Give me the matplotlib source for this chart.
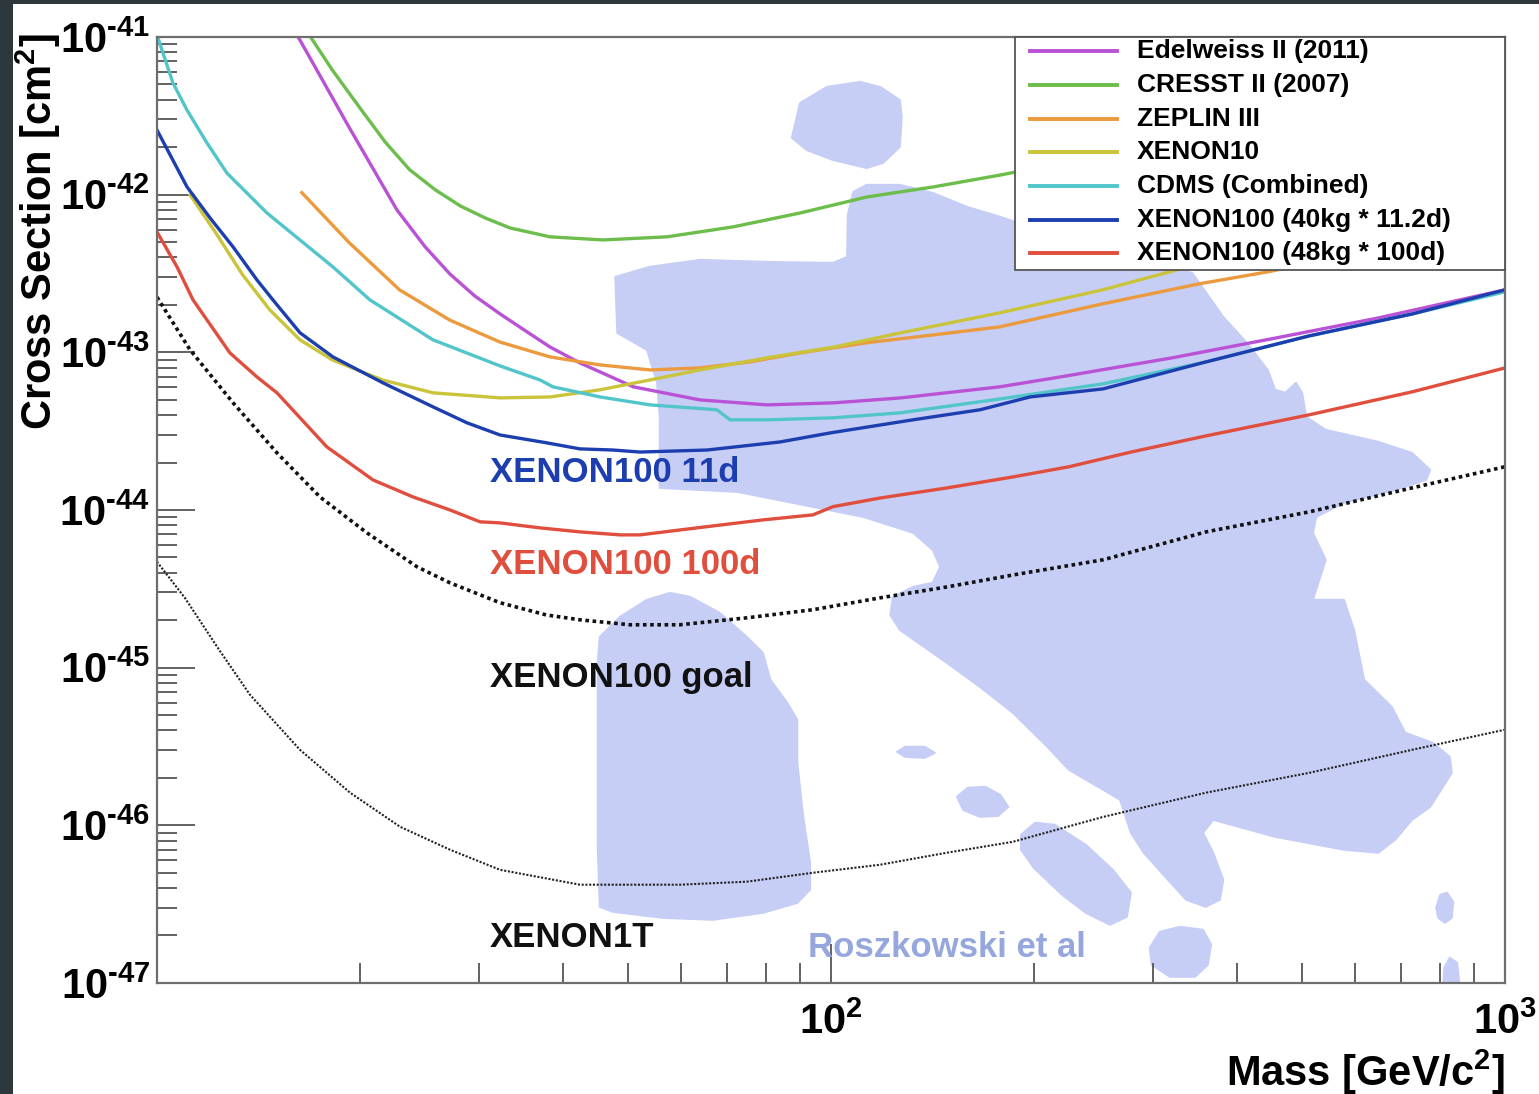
import matplotlib
matplotlib.use("Agg")
import numpy as np
import matplotlib.pyplot as plt
from matplotlib.patches import Rectangle
from matplotlib.ticker import LogLocator, NullFormatter

plt.rcParams['font.family'] = ['Liberation Sans', 'DejaVu Sans']
plt.rcParams['font.weight'] = 'bold'
plt.rcParams['mathtext.fontset'] = 'custom'
plt.rcParams['mathtext.rm'] = 'Liberation Sans:bold'
plt.rcParams['mathtext.bf'] = 'Liberation Sans:bold'
plt.rcParams['mathtext.it'] = 'Liberation Sans:bold:italic'
plt.rcParams['mathtext.default'] = 'rm'

# ---- exclusion limits: WIMP mass [GeV/c^2] vs cross section [cm^2] ----
edelweiss_m = [16.2, 19.3, 22.7, 25.0, 27.2, 29.6, 32.3, 35.2, 38.3, 42.4, 50.9, 63.9, 80.4,
               101, 127, 178, 219, 321, 456, 648, 1000]
edelweiss_s = [1.0e-41, 2.65e-42, 8.00e-43, 4.66e-43, 3.14e-43, 2.28e-43, 1.75e-43, 1.37e-43,
               1.08e-43, 8.57e-44, 6.04e-44, 4.99e-44, 4.64e-44, 4.78e-44, 5.14e-44, 6.04e-44,
               6.98e-44, 9.23e-44, 1.23e-43, 1.65e-43, 2.49e-43]

cresst_m = [16.9, 18.2, 20.0, 21.8, 23.7, 25.9, 28.2, 30.7, 33.4, 38.3, 45.9, 57.1, 71.5, 90.0,
            113, 142, 178, 191]
cresst_s = [1.0e-41, 6.18e-42, 3.55e-42, 2.16e-42, 1.44e-42, 1.07e-42, 8.47e-43, 7.11e-43,
            6.15e-43, 5.40e-43, 5.16e-43, 5.40e-43, 6.24e-43, 7.65e-43, 9.66e-43, 1.12e-42,
            1.33e-42, 1.41e-42]

zeplin_m = [16.4, 19.3, 22.9, 27.2, 32.3, 38.3, 45.4, 53.9, 63.9, 75.8, 90.0, 113, 142, 178,
            253, 352, 445, 589]
zeplin_s = [1.03e-42, 4.94e-43, 2.49e-43, 1.60e-43, 1.16e-43, 9.35e-44, 8.32e-44, 7.73e-44,
            7.96e-44, 8.69e-44, 9.91e-44, 1.15e-43, 1.29e-43, 1.45e-43, 2.03e-43, 2.72e-43,
            3.24e-43, 4.15e-43]

xenon10_m = [11.2, 12.2, 13.4, 14.7, 16.3, 18.2, 21.6, 25.7, 32.3, 38.3, 45.4, 53.9, 63.9,
             80.4, 101, 127, 178, 253, 313, 419]
xenon10_s = [9.95e-43, 5.80e-43, 3.10e-43, 1.86e-43, 1.20e-43, 8.95e-44, 6.68e-44, 5.53e-44,
             5.14e-44, 5.21e-44, 5.78e-44, 6.68e-44, 7.73e-44, 9.23e-44, 1.08e-43, 1.33e-43,
             1.78e-43, 2.49e-43, 3.18e-43, 4.46e-43]

cdms_m = [10.0, 10.56, 11.08, 11.86, 12.70, 14.56, 18.24, 20.70, 25.67, 32.28, 37.00, 38.67,
          45.43, 53.89, 67.72, 70.83, 80.35, 100.7, 126.6, 178.1, 253.3, 360.0, 511.9, 727.8, 1000]
cdms_s = [1.03e-41, 5.11e-42, 3.44e-42, 2.13e-42, 1.37e-42, 7.65e-43, 3.48e-43, 2.15e-43,
          1.20e-43, 8.20e-44, 6.68e-44, 6.04e-44, 5.21e-44, 4.64e-44, 4.32e-44, 3.73e-44,
          3.73e-44, 3.84e-44, 4.13e-44, 5.06e-44, 6.31e-44, 8.69e-44, 1.27e-43, 1.75e-43, 2.42e-43]

x100_11d_m = [10.0, 11.08, 11.99, 12.97, 14.07, 14.86, 16.30, 18.24, 21.64, 25.67, 28.84, 32.28,
              37.78, 42.42, 47.49, 52.07, 65.46, 84.03, 99.66, 132.3, 166.4, 197.4, 253.3, 360.0,
              511.9, 727.8, 1000]
x100_11d_s = [2.57e-42, 1.12e-42, 7.11e-43, 4.66e-43, 2.88e-43, 2.15e-43, 1.33e-43, 9.35e-44,
              6.40e-44, 4.51e-44, 3.57e-44, 2.99e-44, 2.67e-44, 2.44e-44, 2.40e-44, 2.33e-44,
              2.40e-44, 2.70e-44, 3.08e-44, 3.73e-44, 4.32e-44, 5.21e-44, 5.86e-44, 8.69e-44,
              1.27e-43, 1.75e-43, 2.49e-43]

x100_100d_m = [10.0, 10.71, 11.31, 12.83, 14.07, 15.07, 17.87, 20.92, 23.98, 27.21, 30.15, 32.28,
               37.00, 42.42, 48.64, 52.07, 63.27, 79.27, 94.03, 100.7, 118.2, 148.6, 186.2, 225.5,
               278.7, 360.0, 511.9, 727.8, 1000]
x100_100d_s = [5.80e-43, 3.48e-43, 2.15e-43, 9.91e-44, 6.98e-44, 5.53e-44, 2.51e-44, 1.55e-44,
               1.21e-44, 1.00e-44, 8.41e-45, 8.28e-45, 7.70e-45, 7.26e-45, 6.95e-45, 6.95e-45,
               7.70e-45, 8.65e-45, 9.31e-45, 1.05e-44, 1.19e-44, 1.38e-44, 1.62e-44, 1.88e-44,
               2.33e-44, 2.95e-44, 4.01e-44, 5.61e-44, 7.96e-44]

# projected sensitivities
goal_m = [10.0, 11.19, 12.97, 15.07, 17.45, 20.49, 24.31, 27.21, 32.28, 37.78, 42.42, 50.33,
          59.70, 75.06, 94.03, 118.2, 148.6, 186.2, 253.3, 360.0, 511.9, 727.8, 1000]
goal_s = [2.24e-43, 1.04e-43, 4.78e-44, 2.30e-44, 1.21e-44, 7.16e-45, 4.36e-45, 3.45e-45,
          2.58e-45, 2.16e-45, 2.01e-45, 1.87e-45, 1.87e-45, 2.07e-45, 2.33e-45, 2.77e-45,
          3.25e-45, 3.87e-45, 4.83e-45, 7.26e-45, 9.72e-45, 1.38e-44, 1.88e-44]

x1t_m = [10.0, 11.00, 12.36, 13.74, 16.30, 19.34, 22.94, 27.21, 32.28, 42.42, 59.70, 75.06,
         94.03, 118.2, 148.6, 186.2, 253.3, 360.0, 511.9, 727.8, 1000]
x1t_s = [4.69e-45, 2.77e-45, 1.30e-45, 6.73e-46, 3.01e-46, 1.61e-46, 9.79e-47, 7.00e-47,
         5.22e-47, 4.20e-47, 4.20e-47, 4.39e-47, 5.00e-47, 5.62e-47, 6.70e-47, 7.86e-47,
         1.13e-46, 1.61e-46, 2.15e-46, 3.01e-46, 4.04e-46]

# ---- theory region (Roszkowski et al), outlines in log10(mass), log10(sigma) ----
roi_main_lgm = [1.680, 1.731, 1.806, 1.905, 2.003, 2.024, 2.025, 2.033, 2.053, 2.102, 2.151,
                2.202, 2.251, 2.399, 2.536, 2.582, 2.617, 2.648, 2.659, 2.674, 2.690, 2.699,
                2.705, 2.734, 2.812, 2.862, 2.889, 2.883, 2.837, 2.761, 2.720, 2.715, 2.734,
                2.715, 2.761, 2.776, 2.791, 2.832, 2.852, 2.893, 2.918, 2.921, 2.908, 2.889,
                2.862, 2.837, 2.812, 2.761, 2.659, 2.567, 2.552, 2.567, 2.582, 2.577, 2.556,
                2.527, 2.500, 2.464, 2.445, 2.429, 2.404, 2.353, 2.321, 2.270, 2.221, 2.172,
                2.102, 2.088, 2.092, 2.122, 2.151, 2.162, 2.151, 2.122, 2.048, 1.973, 1.861,
                1.746, 1.746, 1.742, 1.727, 1.683]
roi_main_lgs = [-42.522, -42.458, -42.414, -42.427, -42.433, -42.395, -42.129, -41.983, -41.938,
                -41.938, -41.989, -42.078, -42.141, -42.351, -42.497, -42.776, -42.940, -43.112,
                -43.238, -43.257, -43.194, -43.257, -43.410, -43.492, -43.568, -43.638, -43.746,
                -43.809, -43.873, -43.955, -44.044, -44.145, -44.316, -44.570, -44.570, -44.760,
                -45.077, -45.249, -45.413, -45.477, -45.566, -45.667, -45.756, -45.883, -45.965,
                -46.092, -46.174, -46.155, -46.073, -45.965, -46.048, -46.174, -46.346, -46.472,
                -46.517, -46.472, -46.346, -46.174, -46.048, -45.838, -45.775, -45.648, -45.502,
                -45.287, -45.122, -44.970, -44.760, -44.665, -44.551, -44.488, -44.462, -44.361,
                -44.253, -44.145, -44.044, -43.980, -43.885, -43.860, -43.410, -43.194, -42.985,
                -42.877]
roi_top_lgm = [1.942, 1.954, 1.994, 2.043, 2.073, 2.102, 2.105, 2.102, 2.077, 2.053, 2.003, 1.964]
roi_top_lgs = [-41.640, -41.419, -41.317, -41.285, -41.317, -41.400, -41.507, -41.698, -41.799,
               -41.831, -41.780, -41.717]
roi_low_lgm = [1.654, 1.657, 1.687, 1.727, 1.761, 1.791, 1.835, 1.875, 1.899, 1.910, 1.935, 1.950,
               1.950, 1.958, 1.969, 1.969, 1.950, 1.899, 1.825, 1.751, 1.677, 1.657, 1.654, 1.654]
roi_low_lgs = [-44.970, -44.805, -44.678, -44.570, -44.526, -44.551, -44.653, -44.805, -44.906,
               -45.077, -45.223, -45.331, -45.604, -45.921, -46.238, -46.409, -46.492, -46.555,
               -46.599, -46.587, -46.549, -46.517, -46.136, -45.502]
roi_finger_lgm = [2.282, 2.303, 2.332, 2.378, 2.418, 2.445, 2.439, 2.414, 2.378, 2.343, 2.301, 2.282]
roi_finger_lgs = [-46.060, -45.984, -45.997, -46.124, -46.282, -46.428, -46.580, -46.631, -46.555,
                  -46.441, -46.270, -46.155]
roi_dot1_lgm = [2.098, 2.110, 2.139, 2.154, 2.139, 2.110]
roi_dot1_lgs = [-45.534, -45.502, -45.502, -45.541, -45.572, -45.566]
roi_dot2_lgm = [2.187, 2.203, 2.229, 2.251, 2.263, 2.248, 2.221, 2.196]
roi_dot2_lgs = [-45.819, -45.762, -45.756, -45.807, -45.883, -45.940, -45.946, -45.902]
roi_dot3_lgm = [2.473, 2.488, 2.518, 2.552, 2.564, 2.559, 2.540, 2.503, 2.476]
roi_dot3_lgs = [-46.777, -46.675, -46.644, -46.663, -46.758, -46.885, -46.961, -46.961, -46.885]
roi_dot4_lgm = [2.898, 2.904, 2.914, 2.923, 2.921, 2.911, 2.901]
roi_dot4_lgs = [-46.523, -46.441, -46.428, -46.485, -46.587, -46.618, -46.587]
roi_dot5_lgm = [2.908, 2.910, 2.918, 2.929, 2.933]
roi_dot5_lgs = [-47.043, -46.904, -46.840, -46.872, -47.043]

y_exponents = [-47, -46, -45, -44, -43, -42, -41]
x_labelled = [100, 1000]
x_labels = ['$10^{2}$', '$10^{3}$']

ROI_COLOR = '#c6cef6'

fig = plt.figure(figsize=(15.39, 10.94), dpi=100)
fig.patch.set_facecolor('#2e373b')
fig.add_artist(Rectangle((0.0085, 0.0), 0.9915, 0.9963, transform=fig.transFigure,
                         facecolor='white', edgecolor='none', zorder=-10))

ax = fig.add_axes([0.1020, 0.1015, 0.8759, 0.8647])
ax.set_xscale('log')
ax.set_yscale('log')

# theory region
regions = [(roi_main_lgm, roi_main_lgs), (roi_top_lgm, roi_top_lgs), (roi_low_lgm, roi_low_lgs),
           (roi_finger_lgm, roi_finger_lgs), (roi_dot1_lgm, roi_dot1_lgs),
           (roi_dot2_lgm, roi_dot2_lgs), (roi_dot3_lgm, roi_dot3_lgs),
           (roi_dot4_lgm, roi_dot4_lgs), (roi_dot5_lgm, roi_dot5_lgs)]
for lgm, lgs in regions:
    ax.fill(10 ** np.array(lgm), 10 ** np.array(lgs), facecolor=ROI_COLOR, edgecolor=ROI_COLOR,
            lw=1.5, joinstyle='round', zorder=1)

curves = [
    (edelweiss_m, edelweiss_s, '#b952d4', 'Edelweiss II (2011)'),
    (cresst_m, cresst_s, '#6cbd4c', 'CRESST II (2007)'),
    (zeplin_m, zeplin_s, '#ec9a3e', 'ZEPLIN III'),
    (xenon10_m, xenon10_s, '#c9c43a', 'XENON10'),
    (cdms_m, cdms_s, '#52c5cb', 'CDMS (Combined)'),
    (x100_11d_m, x100_11d_s, '#1d3eae', 'XENON100 (40kg * 11.2d)'),
    (x100_100d_m, x100_100d_s, '#e04e3e', 'XENON100 (48kg * 100d)'),
]
for m, s, c, lab in curves:
    ax.plot(m, s, color=c, lw=2.4, solid_joinstyle='round', zorder=3)

ax.plot(goal_m, goal_s, color='#111111', lw=2.6, linestyle=(0, (1, 1.0)),
        dash_capstyle='butt', zorder=3)
ax.plot(x1t_m, x1t_s, color='#222222', lw=1.5, linestyle=(0, (1, 0.8)), zorder=3)

# curve annotations
ax.text(31.2, 1.72e-44, 'XENON100 11d', color='#1d3eae', fontsize=25,
        va='center', ha='left', zorder=4)
ax.text(31.2, 4.49e-45, 'XENON100 100d', color='#e04e3e', fontsize=25,
        va='center', ha='left', zorder=4)
ax.text(31.2, 8.61e-46, 'XENON100 goal', color='#111111', fontsize=25,
        va='center', ha='left', zorder=4)
ax.text(31.2, 1.94e-47, 'XENON1T', color='#111111', fontsize=25,
        va='center', ha='left', zorder=4)
ax.text(92.5, 1.67e-47, 'Roszkowski et al', color='#95a7dc', fontsize=25,
        va='center', ha='left', zorder=4)

ax.set_xlim(10, 1000)
ax.set_ylim(1e-47, 1e-41)

ax.set_yticks([10.0 ** e for e in y_exponents])
ax.set_yticklabels([r'$10^{\text{-}%d}$' % -e for e in y_exponents])
ax.set_xticks(x_labelled)
ax.set_xticklabels(x_labels)
ax.xaxis.set_minor_locator(LogLocator(base=10, subs=np.arange(2, 10), numticks=100))
ax.yaxis.set_minor_locator(LogLocator(base=10, subs=np.arange(2, 10), numticks=100))
ax.xaxis.set_minor_formatter(NullFormatter())
ax.yaxis.set_minor_formatter(NullFormatter())

ax.tick_params(axis='both', which='both', direction='in', color='#555555', width=1.3,
               top=False, right=False, labelsize=30)
ax.tick_params(axis='y', which='major', length=27, pad=5)
ax.tick_params(axis='y', which='minor', length=14.5)
ax.tick_params(axis='x', which='major', length=28, pad=14)
ax.tick_params(axis='x', which='minor', length=14.5)
for sp in ax.spines.values():
    sp.set_color('#6e6e6e')
    sp.set_linewidth(1.6)
    sp.set_zorder(5)

fig.text(1505 / 1539, 22 / 1094, 'Mass [GeV/c$^{2}$]', fontsize=30,
         ha='right', va='center')
fig.text(38 / 1539, 1 - 33 / 1094, 'Cross Section [cm$^{2}$]', fontsize=30,
         rotation=90, ha='center', va='top')

# legend box in the upper right corner of the frame
ax.add_patch(Rectangle((0.6365, 0.7537), 0.3635, 0.2463, transform=ax.transAxes,
                       facecolor='white', edgecolor='#555555', lw=1.3, zorder=6, clip_on=False))
for i, (m, s, c, lab) in enumerate(curves):
    yf = 0.9848 - i * 0.0356
    ax.plot([0.6476, 0.7122], [yf, yf], transform=ax.transAxes, color=c, lw=2.8,
            zorder=7, clip_on=False)
    ax.text(0.7270, yf, lab, transform=ax.transAxes, fontsize=19, va='center', ha='left',
            zorder=7)

fig.savefig('out.png', dpi=100, facecolor=fig.get_facecolor())
